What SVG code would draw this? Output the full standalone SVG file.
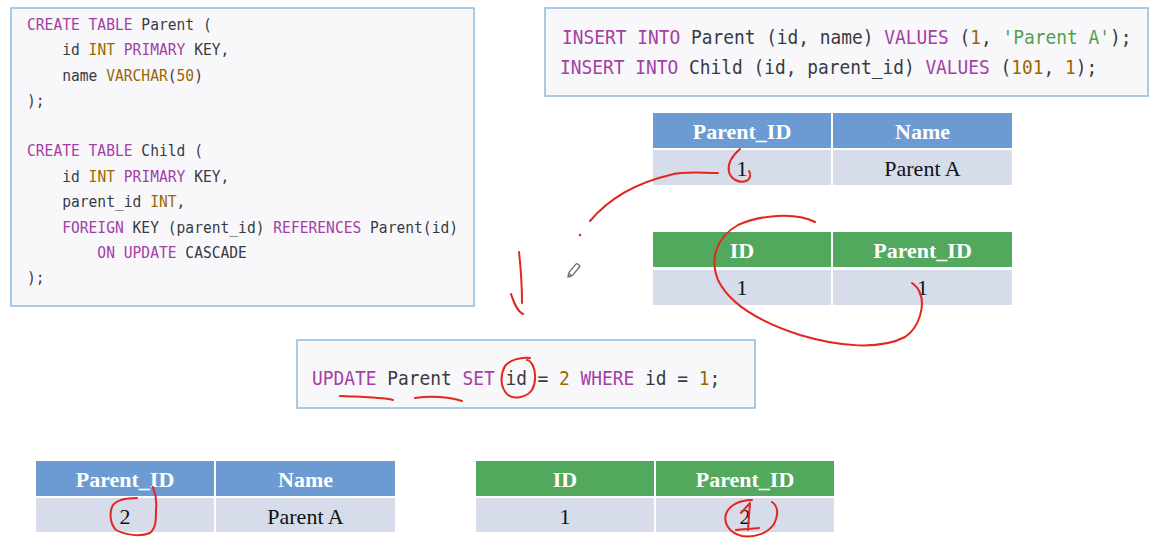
<svg xmlns="http://www.w3.org/2000/svg" width="1159" height="555" viewBox="0 0 1159 555">
<style>
.codebox{fill:#f8f8fa;stroke:#8cbce0;stroke-width:1.5}
.code{font-family:"DejaVu Sans Mono","Liberation Mono",monospace;fill:#383a42}
.c16{font-size:16px}
.c19{font-size:19px}
.kw{fill:#a43ea6}
.ty{fill:#986801}
.str{fill:#50a14f}
.hb{fill:#6b9bd2;stroke:#fff;stroke-width:2}
.hg{fill:#52a85d;stroke:#fff;stroke-width:2}
.row{fill:#d6dcea;stroke:#fff;stroke-width:2}
.ht{font-family:"Liberation Serif","Times New Roman",serif;font-size:22px;font-weight:bold;fill:#fff;text-anchor:middle}
.rt{font-family:"Liberation Serif","Times New Roman",serif;font-size:22px;fill:#111;text-anchor:middle}
.ink{fill:none;stroke:#e3261e;stroke-width:2;stroke-linecap:round;stroke-linejoin:round}
</style>
<rect width="1159" height="555" fill="#fff"/>

<g id="schema-code">
<rect class="codebox" x="11" y="8" width="463" height="298"/>
<g class="code c16" transform="translate(27,0) scale(0.914,1)">
<text y="30"><tspan class="kw">CREATE TABLE</tspan> Parent (</text>
<text x="38.5" y="55.3">id <tspan class="ty">INT</tspan> <tspan class="kw">PRIMARY</tspan> KEY,</text>
<text x="38.5" y="80.6">name <tspan class="ty">VARCHAR</tspan>(<tspan class="ty">50</tspan>)</text>
<text y="106">);</text>
<text y="156.5"><tspan class="kw">CREATE TABLE</tspan> Child (</text>
<text x="38.5" y="182">id <tspan class="ty">INT</tspan> <tspan class="kw">PRIMARY</tspan> KEY,</text>
<text x="38.5" y="207.3">parent_id <tspan class="ty">INT</tspan>,</text>
<text x="38.5" y="232.6"><tspan class="kw">FOREIGN</tspan> KEY (parent_id) <tspan class="kw">REFERENCES</tspan> Parent(id)</text>
<text x="77" y="258"><tspan class="kw">ON UPDATE</tspan> CASCADE</text>
<text y="283.3">);</text>
</g>
</g>

<g id="insert-code">
<rect class="codebox" x="545" y="8" width="603" height="88"/>
<g class="code c19" transform="translate(562,0) scale(0.94,1)">
<text y="44"><tspan class="kw">INSERT INTO</tspan> Parent (id, name) <tspan class="kw">VALUES</tspan> (<tspan class="ty">1</tspan>, <tspan class="str">'Parent A'</tspan>);</text>
<text x="-2" y="74"><tspan class="kw">INSERT INTO</tspan> Child (id, parent_id) <tspan class="kw">VALUES</tspan> (<tspan class="ty">101</tspan>, <tspan class="ty">1</tspan>);</text>
</g>
</g>

<g id="update-code">
<rect class="codebox" x="297" y="340" width="458" height="68"/>
<g class="code c19" transform="translate(312,0) scale(0.94,1)">
<text y="385"><tspan class="kw">UPDATE</tspan> Parent <tspan class="kw">SET</tspan> id = <tspan class="ty">2</tspan> <tspan class="kw">WHERE</tspan> id = <tspan class="ty">1</tspan>;</text>
</g>
</g>

<g id="parent-before">
<rect class="hb" x="652" y="112" width="180" height="37"/>
<rect class="hb" x="832" y="112" width="181" height="37"/>
<rect class="row" x="652" y="149" width="180" height="37"/>
<rect class="row" x="832" y="149" width="181" height="37"/>
<text class="ht" x="742" y="139">Parent_ID</text>
<text class="ht" x="922.5" y="139">Name</text>
<text class="rt" x="742" y="176">1</text>
<text class="rt" x="922.5" y="176">Parent A</text>
</g>

<g id="child-before">
<rect class="hg" x="652" y="231" width="180" height="37"/>
<rect class="hg" x="832" y="231" width="181" height="37"/>
<rect class="row" x="652" y="269" width="180" height="37"/>
<rect class="row" x="832" y="269" width="181" height="37"/>
<text class="ht" x="742" y="258">ID</text>
<text class="ht" x="922.5" y="258">Parent_ID</text>
<text class="rt" x="742" y="295">1</text>
<text class="rt" x="922.5" y="295">1</text>
</g>

<g id="parent-after">
<rect class="hb" x="35" y="460" width="180" height="37"/>
<rect class="hb" x="215" y="460" width="181" height="37"/>
<rect class="row" x="35" y="497" width="180" height="36"/>
<rect class="row" x="215" y="497" width="181" height="36"/>
<text class="ht" x="125" y="487">Parent_ID</text>
<text class="ht" x="305.5" y="487">Name</text>
<text class="rt" x="125" y="524">2</text>
<text class="rt" x="305.5" y="524">Parent A</text>
</g>

<g id="child-after">
<rect class="hg" x="475" y="460" width="180" height="37"/>
<rect class="hg" x="655" y="460" width="180" height="37"/>
<rect class="row" x="475" y="497" width="180" height="36"/>
<rect class="row" x="655" y="497" width="180" height="36"/>
<text class="ht" x="565" y="487">ID</text>
<text class="ht" x="745" y="487">Parent_ID</text>
<text class="rt" x="565" y="524">1</text>
<text class="rt" x="745" y="524">2</text>
</g>

<g id="connectors">
<path class="ink" d="M740,149 C733,155 727,163 729,172 C731,180 740,183 746,181 C751,179 751,174 749,171"/>
<path class="ink" d="M718,173 C700,173 685,171 670,175 C640,182 612,195 590,221"/>
<circle cx="580" cy="235" r="1.2" fill="#e3261e"/>
<path class="ink" d="M519,252 C521,270 522,288 522,303"/>
<path class="ink" d="M511,294 C514,303 517,311 523,314"/>
<path class="ink" d="M815,222 C795,212 760,215 738,225 C715,238 710,260 718,280 C730,305 760,322 800,335 C840,347 880,350 905,337 C920,327 925,305 920,293 C918,288 915,285 912,283"/>
<path class="ink" d="M340,396 C360,397 380,397 393,400"/>
<path class="ink" d="M415,398 C430,396 448,397 462,401"/>
<path class="ink" d="M530,358 C520,357 510,360 505,366 C500,375 500,388 508,395 C515,400 527,397 532,390 C536,383 536,372 533,366 C531,362 529,360 527,360"/>
<path class="ink" d="M153,487 C156,495 157,502 156,510 C156,520 156,528 150,533 C140,537 125,535 116,530 C110,524 109,512 113,505 C117,500 127,498 137,498"/>
<path class="ink" d="M752,500 C740,500 729,505 726,514 C723,524 730,533 742,536 C755,538 768,533 774,524 C779,515 778,506 772,502"/>
<path class="ink" d="M741,513 L750,503 L748,530"/>
<path class="ink" d="M736,530 C745,529 752,529 759,528"/>
<g transform="translate(574,270) rotate(-50)">
<rect x="-6" y="-2.3" width="13" height="4.6" rx="1.2" fill="#fff" stroke="#6a6a6a" stroke-width="1.3"/>
<path d="M-6,-2.3 L-9.5,0 L-6,2.3" fill="#888" stroke="#6a6a6a" stroke-width="1"/>
</g>
</g>
</svg>
